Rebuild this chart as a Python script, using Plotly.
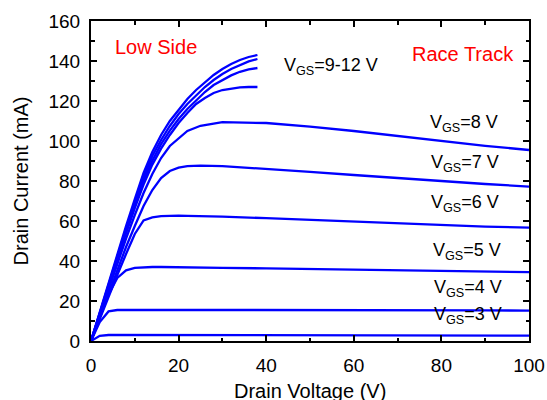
import plotly.graph_objects as go

# Drain voltage sample points (V)
v_low = [0, 2, 4, 6, 8, 10, 12, 14, 16, 18, 20, 22, 25, 30, 40, 50, 60, 70, 80, 90, 100]
v_high = [0, 2, 4, 6, 8, 10, 12, 14, 16, 18, 20, 22, 24, 26, 28, 30, 32, 34, 36, 38]

# Drain current (mA) for each gate voltage
id_vgs3 = [0, 2.6, 3.0, 3.0, 3.0, 3.0, 3.0, 3.0, 3.0, 3.0, 3.0, 3.0, 3.0, 3.0, 2.9, 2.9, 2.8, 2.8, 2.7, 2.7, 2.7]
id_vgs4 = [0, 9.5, 14.8, 15.5, 15.6, 15.6, 15.6, 15.6, 15.6, 15.6, 15.6, 15.6, 15.6, 15.6, 15.5, 15.5, 15.4, 15.4, 15.3, 15.3, 15.2]
id_vgs5 = [0, 11.8, 23.2, 31.5, 35.3, 36.6, 36.9, 37.0, 37.0, 36.9, 36.9, 36.8, 36.8, 36.6, 36.3, 36.0, 35.7, 35.3, 35.0, 34.7, 34.4]
id_vgs6 = [0, 11.2, 22.2, 33.0, 43.5, 53.5, 60.3, 61.8, 62.4, 62.6, 62.7, 62.6, 62.5, 62.2, 61.4, 60.5, 59.6, 58.7, 57.9, 57.2, 56.7]
id_vgs7 = [0, 12.0, 24.0, 35.5, 47.0, 57.5, 67.5, 75.5, 81.5, 85.0, 86.7, 87.4, 87.7, 87.4, 86.1, 84.6, 83.0, 81.4, 79.9, 78.5, 77.2]
id_vgs8 = [0, 13.0, 26.0, 38.8, 51.2, 63.0, 74.0, 83.5, 91.5, 97.5, 101.5, 105.0, 107.6, 109.4, 109.0, 107.2, 105.0, 102.5, 100.0, 97.6, 95.5]
id_vgs9 = [0, 13.6, 27.2, 40.6, 53.8, 66.4, 78.2, 88.2, 96.2, 103.0, 109.0, 114.0, 118.5, 121.5, 124.0, 125.5, 126.3, 126.8, 127.0, 127.0]
id_vgs10 = [0, 13.9, 27.8, 41.5, 55.0, 68.0, 80.0, 90.2, 98.4, 105.2, 111.0, 116.0, 120.5, 124.5, 128.0, 130.5, 132.8, 134.6, 135.8, 136.5]
id_vgs11 = [0, 14.2, 28.4, 42.4, 56.2, 69.5, 82.0, 92.5, 100.5, 107.5, 113.5, 118.5, 123.0, 127.0, 130.5, 133.5, 136.0, 138.0, 139.8, 141.0]
id_vgs12 = [0, 14.5, 29.0, 43.3, 57.5, 71.0, 84.0, 94.5, 103.0, 110.0, 115.5, 121.0, 125.5, 129.5, 133.0, 136.0, 138.5, 140.5, 142.0, 143.0]

# Curve labels: text, x (V), y (mA)
curve_labels = [
    ("V<sub>GS</sub>=9-12 V", 54.7, 137.2),
    ("V<sub>GS</sub>=8 V", 85.2, 108.7),
    ("V<sub>GS</sub>=7 V", 85.4, 88.7),
    ("V<sub>GS</sub>=6 V", 85.4, 68.7),
    ("V<sub>GS</sub>=5 V", 85.8, 44.7),
    ("V<sub>GS</sub>=4 V", 86.0, 26.2),
    ("V<sub>GS</sub>=3 V", 86.0, 13.0),
]
corner_labels = [("Low Side", 14.8, 147.0), ("Race Track", 85.0, 143.5)]

FONT = "Arial, Liberation Sans, sans-serif"
BLUE = "#0000FF"

fig = go.Figure()
series = [
    (v_low, id_vgs3), (v_low, id_vgs4), (v_low, id_vgs5), (v_low, id_vgs6),
    (v_low, id_vgs7), (v_low, id_vgs8),
    (v_high, id_vgs9), (v_high, id_vgs10), (v_high, id_vgs11), (v_high, id_vgs12),
]
for xs, ys in series:
    fig.add_trace(go.Scatter(x=xs, y=ys, mode="lines",
                             line=dict(color=BLUE, width=2.3),
                             showlegend=False, hoverinfo="skip"))

for text, x, y in curve_labels:
    fig.add_annotation(x=x, y=y, text=text, showarrow=False,
                       font=dict(family=FONT, size=18, color="black"),
                       xanchor="center", yanchor="middle")
for text, x, y in corner_labels:
    fig.add_annotation(x=x, y=y, text=text, showarrow=False,
                       font=dict(family=FONT, size=20, color="#FF0000"),
                       xanchor="center", yanchor="middle")

# x-axis title, set just below the tick labels
fig.add_annotation(x=0.5, y=-0.117, xref="paper", yref="paper",
                   text="Drain Voltage (V)", showarrow=False,
                   font=dict(family=FONT, size=20, color="black"),
                   xanchor="center", yanchor="top")

axis_common = dict(
    showline=True, linecolor="black", linewidth=2, mirror="allticks",
    ticks="inside", ticklen=6, tickwidth=2, tickcolor="black",
    showgrid=False, zeroline=False, automargin=False,
    tickfont=dict(family=FONT, size=19, color="black"),
    minor=dict(ticks="inside", ticklen=3.5, tickwidth=1.5, tickcolor="black", dtick=10),
)

fig.update_xaxes(range=[0, 100], dtick=20, tick0=0,
                 ticklabelstandoff=6, **axis_common)
fig.update_yaxes(range=[0, 160], dtick=20, tick0=0,
                 title=dict(text="Drain Current (mA)", standoff=14,
                            font=dict(family=FONT, size=20, color="black")),
                 ticklabelstandoff=5, **axis_common)

fig.update_layout(
    width=547, height=400,
    margin=dict(l=91, r=18, t=21, b=59),
    paper_bgcolor="white", plot_bgcolor="white",
    font=dict(family=FONT),
)

fig.write_html("out.html")
